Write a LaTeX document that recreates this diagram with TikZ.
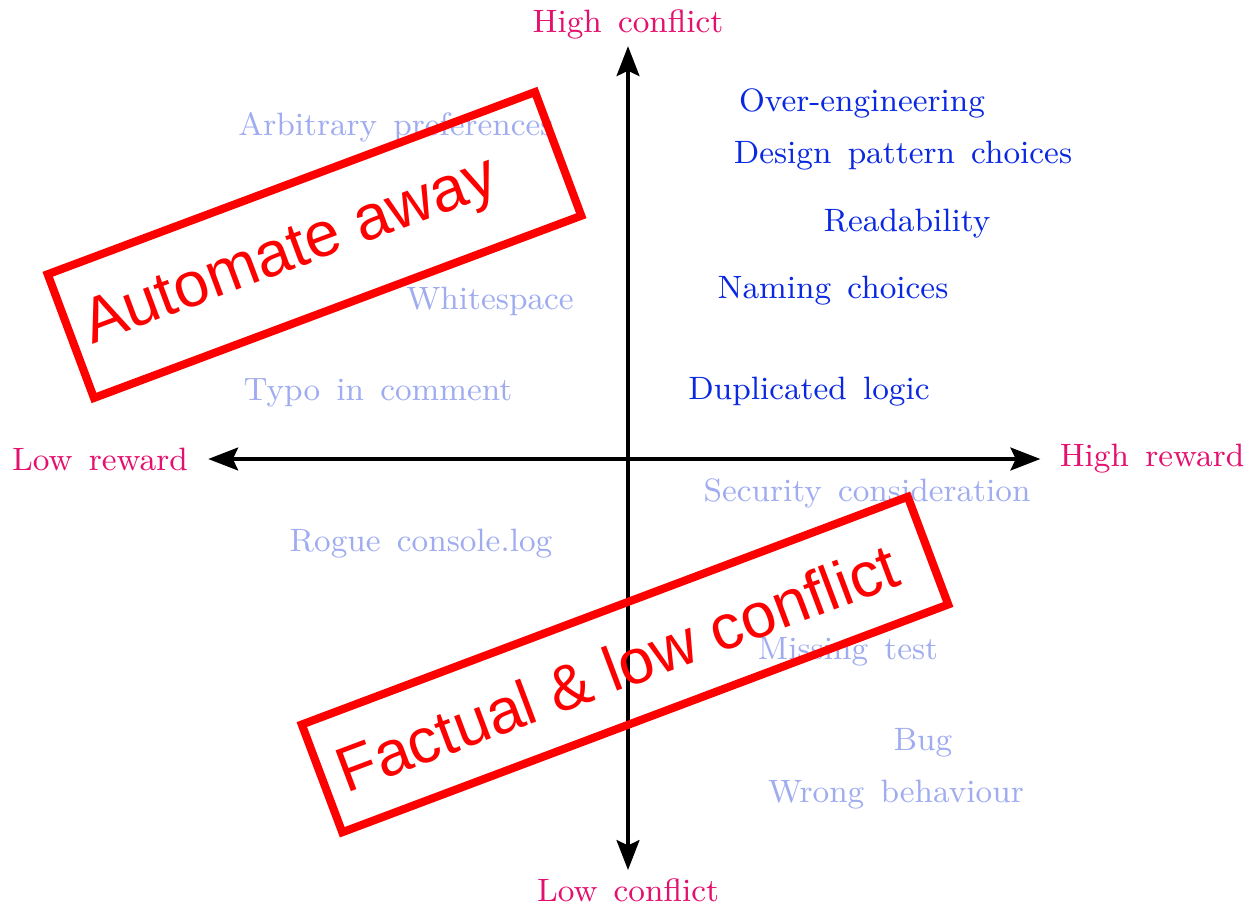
\documentclass[tikz,border=0pt]{standalone}
\usepackage{fontspec}
\newfontfamily\stampfont{Liberation Sans}
\usetikzlibrary{arrows.meta}
\definecolor{axiscol}{RGB}{228,16,110}
\definecolor{darkcol}{RGB}{10,40,225}
\definecolor{lightcol}{RGB}{160,172,240}
\definecolor{stampcol}{RGB}{255,0,0}
\tikzset{
  lbl/.style={font={\fontsize{9.2}{11}\selectfont\spaceskip=0.5em\relax}},
  axislbl/.style={lbl, text=axiscol},
  darkitem/.style={lbl, text=darkcol},
  lightitem/.style={lbl, text=lightcol},
  stamp/.style={draw=stampcol, line width=2.3pt, text=stampcol,
    font={\stampfont\fontsize{18}{20}\selectfont}, align=flush left}
}
\begin{document}
\begin{tikzpicture}[x=0.01cm, y=-0.01cm, >={Stealth[length=8.5pt,width=6.5pt,inset=1.5pt]}]
  \useasboundingbox (0,0) rectangle (1249,903);
  % axes
  \node[axislbl] (hc) at (628,24) {High conflict};
  \node[axislbl] (lc) at (628,890) {Low conflict};
  \node[axislbl] (lr) at (100,459) {Low reward};
  \node[axislbl] (hr) at (1152,459) {High reward};
  \draw [<->, line width=1pt, shorten <=-0.04cm, shorten >=-0.05cm] (lc) -- (hc);
  \draw [<->, line width=1pt, shorten <=0.08cm, shorten >=0.07cm] (lr) -- (hr);
  % high conflict items
  \node[darkitem] (over) at (862,103) {Over-engineering};
  \node[darkitem] (design) at (903,156) {Design pattern choices};
  \node[darkitem] (read) at (907,224) {Readability};
  \node[darkitem] (naming) at (833,291) {Naming choices};
  \node[darkitem] (dup) at (809,392) {Duplicated logic};
  % low conflict items
  \node[lightitem] (arb) at (396,127) {Arbitrary preferences};
  \node[lightitem] (white) at (490,301) {Whitespace};
  \node[lightitem] (typo) at (378,393) {Typo in comment};
  \node[lightitem] (sec) at (867,493) {Security consideration};
  \node[lightitem] (rogue) at (421,544) {Rogue console.log};
  \node[lightitem] (missing) at (848,652) {Missing test};
  \node[lightitem] (bug) at (923,743) {Bug};
  \node[lightitem] (wrong) at (896,795) {Wrong behaviour};
  % stamps
  \node[stamp, rotate=20.5, minimum height=1.32cm, inner xsep=0.17cm, text width=4.86cm] (automate) at (314.5,245) {Automate away};
  \node[stamp, rotate=20.6, minimum height=1.15cm, inner xsep=0.18cm, text width=6.11cm] (factual) at (625,664.5) {Factual \& low conflict};
\end{tikzpicture}
\end{document}
